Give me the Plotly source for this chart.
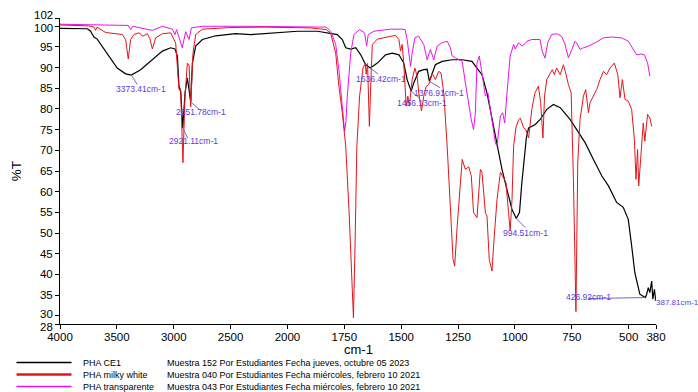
import plotly.graph_objects as go

# ---------------- data ----------------
wn_ce1 = [4000, 3850, 3760, 3731, 3702, 3673, 3629, 3570, 3497, 3423, 3373, 3291, 3188, 3100, 3027,
          2989, 2968, 2954, 2939, 2921, 2900, 2880, 2851, 2836, 2807, 2748, 2631, 2455, 2323, 2147,
          1956, 1868, 1810, 1781, 1759, 1744, 1722, 1700, 1678, 1656, 1636, 1605, 1569, 1539, 1510,
          1489, 1474, 1456, 1445, 1423, 1401, 1386, 1376, 1364, 1350, 1320, 1276, 1232, 1189, 1167,
          1145, 1123, 1101, 1079, 1057, 1035, 1013, 994, 980, 970, 960, 950, 940, 912, 890,
          860, 831, 801, 757, 721, 691, 655, 618, 589, 567, 553, 524, 502, 487, 473,
          451, 436, 427, 421, 414, 407, 399, 394, 387, 381]
t_ce1 = [99.5, 99.5, 99.4, 98.8, 97.4, 96.9, 95.2, 92.8, 89.9, 88.5, 88.2, 89.5, 91.9, 94.0, 94.8,
         94.5, 92.8, 85.5, 84.3, 75.4, 84.0, 87.5, 81.7, 91.1, 95.2, 96.8, 97.7, 98.2, 98.0, 98.4,
         98.8, 98.8, 98.3, 98.0, 96.8, 94.8, 94.5, 94.8, 93.1, 90.7, 89.9, 91.1, 93.1, 93.5, 93.1,
         91.1, 87.1, 84.3, 86.3, 89.1, 89.5, 89.6, 86.7, 88.7, 90.7, 91.5, 91.9, 91.9, 91.5, 89.9,
         88.3, 83.9, 77.4, 71.0, 65.4, 60.5, 55.7, 53.5, 55.0, 62.0, 68.5, 73.0, 75.4, 76.2, 77.4,
         79.9, 81.1, 80.3, 77.4, 74.2, 71.8, 67.8, 63.8, 61.4, 59.0, 57.4, 56.2, 53.3, 46.9, 40.4,
         35.2, 34.8, 34.4, 35.2, 36.8, 35.6, 38.4, 34.0, 36.4, 33.6]

wn_milky = [4000, 3750, 3700, 3687, 3675, 3599, 3452, 3423, 3400, 3379, 3350, 3306, 3271, 3232, 3210,
            3188, 3159, 3100, 3027, 2983, 2960, 2954, 2939, 2930, 2919, 2901, 2880, 2865, 2851, 2831,
            2807, 2748, 2500, 2200, 1900, 1830, 1810, 1788, 1774, 1759, 1744, 1729, 1718, 1710, 1703,
            1695, 1683, 1668, 1658, 1654, 1648, 1640, 1632, 1627, 1605, 1576, 1547, 1525, 1510, 1503,
            1496, 1489, 1478, 1471, 1464, 1452, 1440, 1430, 1423, 1411, 1401, 1390, 1379, 1364, 1350,
            1335, 1325, 1313, 1298, 1284, 1272, 1265, 1258, 1254, 1232, 1218, 1203, 1192, 1182, 1167,
            1152, 1145, 1130, 1123, 1113, 1101, 1094, 1079, 1064, 1050, 1040, 1028, 1021, 1013, 1006,
            996, 984, 977, 962, 952, 940, 926, 912, 897, 887, 877, 870, 860, 846, 836,
            827, 817, 801, 787, 777, 765, 753, 743, 732, 724, 714, 699, 689, 677, 670,
            655, 641, 626, 611, 597, 582, 563, 548, 538, 528, 516, 502, 487, 475, 468,
            461, 456, 446, 436, 429, 417, 407, 399]
t_milky = [100.3, 100.1, 99.8, 99.0, 99.8, 98.5, 98.0, 96.8, 92.1, 96.8, 98.0, 98.4, 97.6, 98.2, 97.0,
           94.5, 97.2, 98.2, 98.4, 96.0, 87.0, 84.7, 84.5, 78.0, 67.0, 83.1, 91.1, 90.6, 80.5, 93.5,
           98.0, 99.3, 99.7, 99.8, 99.6, 99.2, 98.3, 93.5, 85.5, 79.1, 71.0, 54.9, 38.8, 29.5, 46.9,
           71.0, 83.1, 89.9, 91.0, 88.4, 91.0, 75.8, 88.9, 95.6, 96.9, 97.2, 97.4, 97.8, 96.8, 94.0,
           95.6, 91.1, 80.7, 83.1, 80.7, 87.1, 89.9, 87.9, 83.9, 79.5, 83.1, 85.5, 85.9, 88.7, 87.1,
           89.1, 88.7, 83.9, 71.0, 54.9, 43.6, 42.0, 46.9, 51.7, 67.8, 65.4, 66.0, 63.8, 54.9, 53.7,
           65.4, 64.7, 54.9, 54.1, 43.6, 40.8, 46.9, 58.1, 64.7, 63.1, 62.3, 54.9, 50.5, 58.1, 71.0,
           75.4, 77.4, 77.8, 75.5, 75.0, 73.0, 79.9, 83.9, 85.5, 81.5, 73.0, 83.1, 87.1, 88.7, 89.5,
           88.3, 89.9, 88.3, 90.7, 88.7, 85.9, 83.9, 63.0, 31.0, 67.0, 77.4, 83.1, 84.7, 79.1, 81.5,
           83.1, 84.7, 87.1, 89.1, 88.3, 89.9, 91.1, 88.3, 82.7, 87.1, 82.3, 81.9, 79.9, 72.6, 63.0,
           70.2, 61.4, 69.4, 76.6, 72.2, 78.7, 77.8, 75.8]

wn_transp = [4000, 3700, 3400, 3379, 3360, 3188, 3100, 3012, 2989, 2975, 2925, 2895, 2865, 2845, 2748,
             2400, 2000, 1830, 1810, 1788, 1774, 1762, 1754, 1749, 1743, 1737, 1722, 1708, 1683, 1661,
             1652, 1645, 1620, 1547, 1500, 1483, 1474, 1459, 1452, 1440, 1423, 1401, 1386, 1372, 1357,
             1342, 1320, 1298, 1284, 1276, 1262, 1247, 1232, 1218, 1203, 1192, 1182, 1174, 1167, 1157,
             1145, 1130, 1119, 1101, 1086, 1079, 1072, 1064, 1054, 1045, 1035, 1021, 1006, 999, 984,
             969, 955, 947, 926, 890, 880, 868, 856, 839, 817, 795, 780, 765, 750, 736,
             729, 714, 699, 677, 648, 611, 575, 531, 502, 480, 465, 446, 431, 417, 407]
t_transp = [100.5, 100.3, 100.2, 99.2, 100.0, 99.0, 100.0, 99.3, 98.0, 99.2, 94.8, 98.7, 96.8, 99.6, 100.0,
            100.0, 99.9, 99.8, 98.8, 95.6, 89.5, 82.3, 79.1, 74.6, 77.0, 83.1, 93.5, 98.0, 99.2, 98.4,
            95.2, 98.0, 98.8, 99.3, 99.3, 99.2, 96.8, 90.3, 93.5, 97.2, 97.6, 95.6, 91.9, 94.4, 91.9,
            95.2, 96.0, 96.4, 94.8, 92.8, 92.4, 91.9, 91.5, 86.3, 80.7, 77.4, 75.0, 79.1, 91.1, 92.8,
            88.7, 83.1, 83.9, 77.4, 71.8, 71.0, 74.2, 78.3, 79.1, 76.6, 83.9, 92.8, 95.6, 94.5, 96.0,
            95.2, 95.8, 96.4, 96.8, 96.8, 94.0, 92.3, 96.0, 98.0, 98.2, 97.6, 95.6, 92.4, 94.4, 96.4,
            96.0, 94.4, 94.8, 95.2, 96.0, 97.2, 97.4, 97.2, 96.4, 94.4, 93.1, 93.3, 93.1, 91.1, 87.9]

series_names = ["PHA CE1", "PHA milky white", "PHA transparente"]
series_descs = ["Muestra 152 Por Estudiantes Fecha jueves, octubre 05 2023",
                "Muestra 040 Por Estudiantes Fecha miércoles, febrero 10 2021",
                "Muestra 043 Por Estudiantes Fecha miércoles, febrero 10 2021"]

x_tick_vals = [4000, 3500, 3000, 2500, 2000, 1750, 1500, 1250, 1000, 750, 500, 380]
y_tick_vals = [28, 30, 35, 40, 45, 50, 55, 60, 65, 70, 75, 80, 85, 90, 95, 100, 102]

peak_wn = [3373.41, 2921.11, 2851.78, 1636.42, 1456.13, 1376.91, 994.51, 426.92, 387.81]
peak_t = [88.2, 75.4, 81.7, 89.9, 84.3, 86.7, 53.5, 34.4, 33.8]

x_title = "cm-1"
y_title = "%T"

# ---------------- styling ----------------
W, H = 698, 392
ML, MR, MT, MB = 60, 42, 18, 68
PW, PH = W - ML - MR, H - MT - MB
FONT = "Liberation Sans, Arial, Helvetica, sans-serif"
colors = ["#000000", "#e3161c", "#ec12ec"]
widths = [1.2, 1.0, 1.0]
legend_widths = [1.6, 2.6, 1.6]
ann_color = "#5a3cdc"
ann_line = "#7068d8"
TICK_SIZE = 11.5
LEG_SIZE = 9

# label offsets (px): text dx, dy (down positive), leader end dx, dy, anchor, font size
label_pos = [
    (10, 14, 6, 9.5, "center", 8.5),
    (11, 13, 5, 10, "center", 8.5),
    (10, 10, 9, 7.7, "center", 8.5),
    (10.5, 10.5, 8, 6, "center", 8.5),
    (11, 11.5, 8, 6.7, "center", 8.5),
    (10, 11.5, 11, 6.5, "center", 8.5),
    (9, 14, 9, 9, "center", 8.5),
    (-57, -0.5, -57, 1, "center", 8.5),
    (1, 2.5, 25, -1, "left", 8),
]
# y tick labels nudged apart where they crowd (value: pixel shift up)
ytick_nudge = {102: 3, 100: -1.5, 30: 1.5, 28: -3}


def tx(w):
    # FTIR axis: scale halves above 2000 cm-1
    return w if w <= 2000 else 2000 + (w - 2000) * 0.5


def px_x(px):
    return (px - ML) / PW


def px_y(py):
    return (MT + PH - py) / PH


fig = go.Figure()
order = [0, 2, 1]
all_wn = [wn_ce1, wn_milky, wn_transp]
all_t = [t_ce1, t_milky, t_transp]
for i in order:
    fig.add_trace(go.Scatter(
        x=[tx(w) for w in all_wn[i]], y=all_t[i], mode="lines",
        name=series_names[i], line=dict(color=colors[i], width=widths[i]),
        showlegend=False))

shapes = []
annotations = []
for (w, t), (dx, dy, lx, ly, anc, fs) in zip(zip(peak_wn, peak_t), label_pos):
    shapes.append(dict(type="line", xref="x", yref="y", xsizemode="pixel", ysizemode="pixel",
                       xanchor=tx(w), yanchor=t, x0=0, y0=0, x1=lx, y1=-ly,
                       line=dict(color=ann_line, width=1)))
    annotations.append(dict(x=tx(w), y=t, xref="x", yref="y", text=f"{w:.2f}cm-1",
                            showarrow=False, xshift=dx, yshift=-dy, xanchor=anc, yanchor="middle",
                            borderpad=0,
                            font=dict(family=FONT, size=fs, color=ann_color)))

# crowded y tick labels drawn as nudged texts
ytick_text = []
for v in y_tick_vals:
    if v in ytick_nudge:
        ytick_text.append("")
        annotations.append(dict(x=0, y=v, xref="paper", yref="y", text=str(v), showarrow=False,
                                xanchor="right", yanchor="middle", xshift=-6, yshift=ytick_nudge[v],
                                borderpad=0, font=dict(family=FONT, size=TICK_SIZE, color="#000000")))
    else:
        ytick_text.append(str(v))

# x-axis title, placed tight under the tick labels as in the reference
annotations.append(dict(x=0.5, y=px_y(349.5), xref="paper", yref="paper", text=x_title,
                        showarrow=False, xanchor="center", yanchor="middle", borderpad=0,
                        font=dict(family=FONT, size=13, color="#000000")))

# custom legend below the plot
legend_rows = [362.5, 374.5, 386.5]
for i, py in enumerate(legend_rows):
    shapes.append(dict(type="line", xref="paper", yref="paper",
                       x0=px_x(16.5), x1=px_x(71.5), y0=px_y(py), y1=px_y(py),
                       line=dict(color=colors[i], width=legend_widths[i])))
    annotations.append(dict(x=px_x(81.5), y=px_y(py), xref="paper", yref="paper",
                            text=series_names[i], showarrow=False, xanchor="left", yanchor="middle",
                            borderpad=0,
                            font=dict(family=FONT, size=LEG_SIZE, color="#000000")))
    annotations.append(dict(x=px_x(165.5), y=px_y(py), xref="paper", yref="paper",
                            text=series_descs[i], showarrow=False, xanchor="left", yanchor="middle",
                            borderpad=0,
                            font=dict(family=FONT, size=LEG_SIZE, color="#000000")))

fig.update_layout(
    width=W, height=H,
    margin=dict(l=ML, r=MR, t=MT, b=MB, pad=0),
    paper_bgcolor="white", plot_bgcolor="white",
    font=dict(family=FONT, color="#000000"),
    shapes=shapes, annotations=annotations,
    xaxis=dict(range=[tx(4000), tx(380)], tickvals=[tx(v) for v in x_tick_vals],
               ticktext=[str(v) for v in x_tick_vals], showgrid=False, zeroline=False,
               showline=True, linecolor="black", linewidth=1, ticks="outside", ticklen=4,
               tickcolor="black", tickfont=dict(size=TICK_SIZE, family=FONT),
               ticklabelstandoff=-2),
    yaxis=dict(range=[28, 102], tickvals=y_tick_vals, ticktext=ytick_text,
               showgrid=False, zeroline=False, showline=True, linecolor="black", linewidth=1,
               ticks="outside", ticklen=4, tickcolor="black", tickfont=dict(size=TICK_SIZE, family=FONT),
               title=dict(text=y_title, font=dict(size=13.5, family=FONT), standoff=15)),
)

fig.write_html("out.html")
